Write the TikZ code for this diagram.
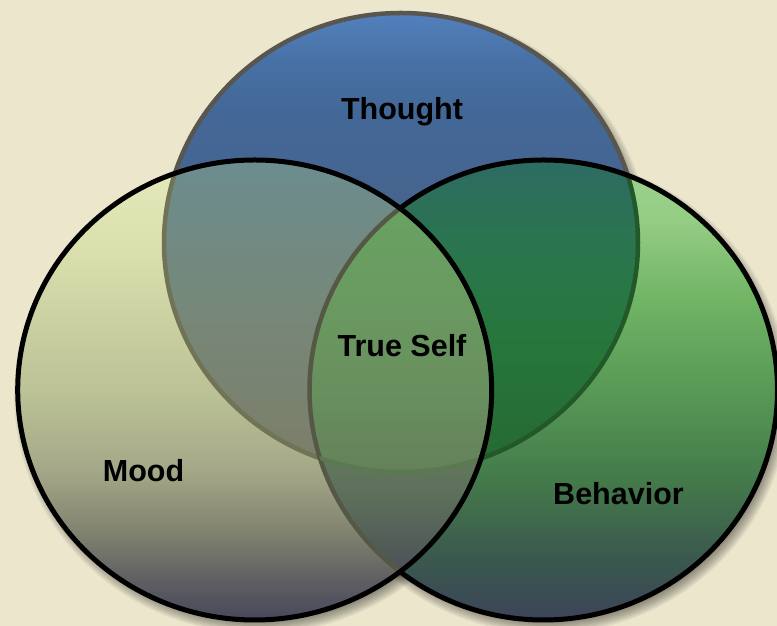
\documentclass[tikz,border=0pt]{standalone}
\usepackage{fontspec}
\setmainfont{Liberation Sans}

% palette
\definecolor{paper}{RGB}{236,230,205}
\definecolor{thA}{RGB}{70,95,130}
\definecolor{thB}{RGB}{70,100,142}
\definecolor{thC}{RGB}{67,104,152}
\definecolor{thD}{RGB}{72,113,166}
\definecolor{thE}{RGB}{82,128,188}
\definecolor{moA}{RGB}{72,72,92}
\definecolor{moB}{RGB}{95,95,98}
\definecolor{moC}{RGB}{130,132,112}
\definecolor{moD}{RGB}{165,168,135}
\definecolor{moE}{RGB}{188,194,150}
\definecolor{moF}{RGB}{218,223,173}
\definecolor{moG}{RGB}{230,234,188}
\definecolor{mtA}{RGB}{124,126,104}
\definecolor{mtB}{RGB}{118,136,122}
\definecolor{mtC}{RGB}{108,140,142}
\definecolor{beA}{RGB}{60,68,88}
\definecolor{beB}{RGB}{58,88,78}
\definecolor{beC}{RGB}{68,122,74}
\definecolor{beD}{RGB}{85,150,85}
\definecolor{beE}{RGB}{112,180,100}
\definecolor{beF}{RGB}{148,205,132}
\definecolor{beG}{RGB}{155,210,140}
\definecolor{tbA}{RGB}{38,105,50}
\definecolor{tbB}{RGB}{38,118,58}
\definecolor{tbC}{RGB}{42,118,75}
\definecolor{tbD}{RGB}{45,108,98}
\definecolor{mbA}{RGB}{75,78,90}
\definecolor{mbB}{RGB}{82,92,88}
\definecolor{mbC}{RGB}{92,110,90}
\definecolor{mbD}{RGB}{100,125,92}
\definecolor{tsA}{RGB}{100,130,90}
\definecolor{tsB}{RGB}{104,142,94}
\definecolor{tsC}{RGB}{106,154,96}
\definecolor{tsD}{RGB}{104,162,98}
\definecolor{thoughtrim}{RGB}{88,86,78}
\definecolor{rimolive}{RGB}{112,115,85}
\definecolor{rimgreen}{RGB}{35,88,40}
\definecolor{rimfaint}{RGB}{88,122,80}
\definecolor{rimdark}{RGB}{85,88,68}

% vertical shadings, stops placed over the full picture height (25bp..75bp)
\pgfdeclareverticalshading{thoughtfill}{100bp}{color(0bp)=(thA); color(37.5bp)=(thA); color(59bp)=(thB); color(66.2bp)=(thC); color(70.2bp)=(thD); color(73.8bp)=(thE); color(100bp)=(thE)}
\pgfdeclareverticalshading{moodfill}{100bp}{color(0bp)=(moA); color(25.5bp)=(moA); color(28.7bp)=(moB); color(32.7bp)=(moC); color(37.5bp)=(moD); color(43.8bp)=(moE); color(55bp)=(moF); color(62.2bp)=(moG); color(100bp)=(moG)}
\pgfdeclareverticalshading{moodthought}{100bp}{color(0bp)=(mtA); color(37.5bp)=(mtA); color(51bp)=(mtB); color(61.8bp)=(mtC); color(100bp)=(mtC)}
\pgfdeclareverticalshading{behaviorfill}{100bp}{color(0bp)=(beA); color(25.5bp)=(beA); color(30.3bp)=(beB); color(36.7bp)=(beC); color(43.1bp)=(beD); color(51bp)=(beE); color(57.4bp)=(beF); color(61.8bp)=(beG); color(100bp)=(beG)}
\pgfdeclareverticalshading{thoughtbehavior}{100bp}{color(0bp)=(tbA); color(37.9bp)=(tbA); color(47bp)=(tbB); color(54.2bp)=(tbC); color(61.8bp)=(tbD); color(100bp)=(tbD)}
\pgfdeclareverticalshading{moodbehavior}{100bp}{color(0bp)=(mbA); color(28.7bp)=(mbA); color(31.5bp)=(mbB); color(35.1bp)=(mbC); color(39.9bp)=(mbD); color(100bp)=(mbD)}
\pgfdeclareverticalshading{trueself}{100bp}{color(0bp)=(tsA); color(37.5bp)=(tsA); color(43.1bp)=(tsB); color(51bp)=(tsC); color(58.2bp)=(tsD); color(100bp)=(tsD)}

\newcommand\softshadow[4]{%
  \foreach \d in {0,1.5,...,13.5}{%
    \fill[black,fill opacity=0.055] (#1,#2) ellipse [x radius={#3-6+\d}, y radius={#4-6+\d}];}}

\begin{document}
\begin{tikzpicture}[x=1pt,y=1pt,
  thoughtP/.style={insert path={(401,383.5) ellipse [x radius=237, y radius=229.5]}},
  moodP/.style={insert path={(254.7,236) ellipse [x radius=237, y radius=230]}},
  behaviorP/.style={insert path={(543.5,236) ellipse [x radius=234, y radius=230]}},
  rim/.style={line width=5pt},
  label/.style={font=\bfseries\fontsize{30.5}{36}\selectfont, text=black, inner sep=0pt, anchor=base}]

\useasboundingbox (0,0) rectangle (777,626);
\fill[paper] (0,0) rectangle (777,626);

% soft drop shadows
\softshadow{405}{377.5}{237}{229.5}
\softshadow{258.7}{230}{237}{230}
\softshadow{547.5}{230}{234}{230}

% Thought
\begin{scope}
  \clip[thoughtP];
  \shade[shading=thoughtfill] (0,0) rectangle (777,626);
\end{scope}
\draw[rim, thoughtrim, line width=4.5pt][thoughtP];

% Behavior
\begin{scope}
  \clip[behaviorP];
  \shade[shading=behaviorfill] (0,0) rectangle (777,626);
  \begin{scope}
    \clip[thoughtP];
    \shade[shading=thoughtbehavior] (0,0) rectangle (777,626);
  \end{scope}
  \draw[rimgreen, line width=4.5pt][thoughtP];
\end{scope}
\draw[rim, black][behaviorP];

% Mood
\begin{scope}
  \clip[moodP];
  \shade[shading=moodfill] (0,0) rectangle (777,626);
  \begin{scope}
    \clip[thoughtP];
    \shade[shading=moodthought] (0,0) rectangle (777,626);
  \end{scope}
  \begin{scope}
    \clip[behaviorP];
    \shade[shading=moodbehavior] (0,0) rectangle (777,626);
    \clip[thoughtP];
    \shade[shading=trueself] (0,0) rectangle (777,626);
  \end{scope}
  \draw[rimolive, line width=4.5pt][thoughtP];
  \draw[rimdark, line width=4.5pt][behaviorP];
  \begin{scope}
    \clip[behaviorP];
    \draw[rimfaint, line width=4pt][thoughtP];
  \end{scope}
\end{scope}
\draw[rim, black][moodP];

% labels
\node[label] (thought) at (402,506) {Thought};
\node[label] (trueself) at (402,269) {True Self};
\node[label] (mood) at (143.5,144) {Mood};
\node[label] (behavior) at (618.5,121) {Behavior};

\end{tikzpicture}
\end{document}
